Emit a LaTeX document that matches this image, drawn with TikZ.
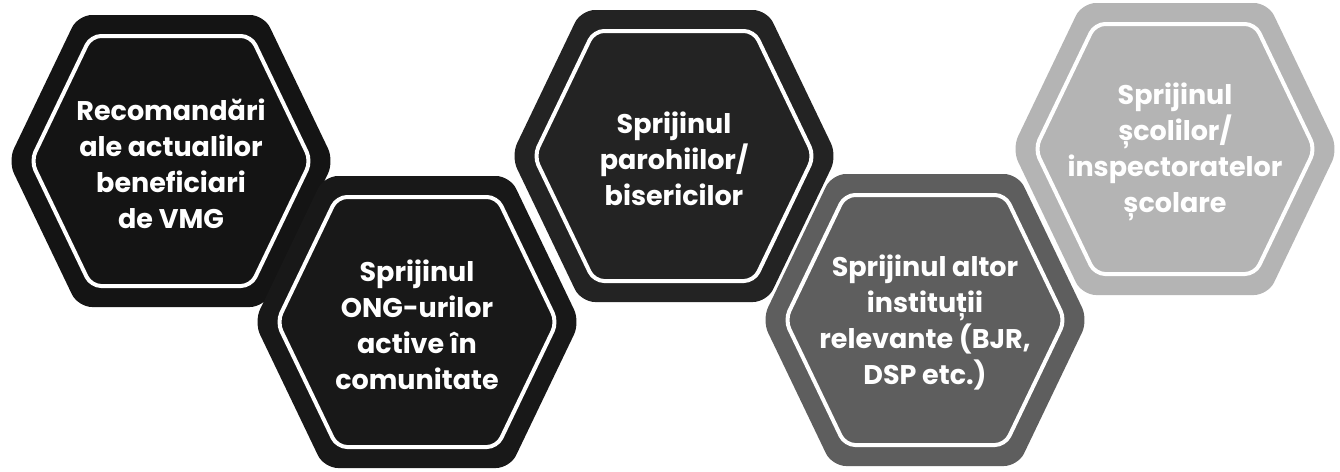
\documentclass[tikz,border=0pt]{standalone}
\usepackage{fontspec}
\setmainfont{Poppins}
\definecolor{hexA}{HTML}{141414}
\definecolor{hexB}{HTML}{181818}
\definecolor{hexC}{HTML}{232323}
\definecolor{hexD}{HTML}{5E5E5E}
\definecolor{hexE}{HTML}{B4B4B4}
\begin{document}
\begin{tikzpicture}[x=1pt,y=-1pt,
  hexlabel/.style={text=white, align=center, inner sep=0pt,
    font=\bfseries\fontsize{27}{36}\selectfont},
  outerhex/.style={fill=#1, rounded corners=14pt},
  innerhex/.style={draw=white, line width=4pt, rounded corners=10pt}]
\useasboundingbox[fill=white] (0,0) rectangle (1340,471);
\foreach \n/\cx/\cy/\col/\txt in {
  h1/171/161/hexA/{Recomandări\\ale actualilor\\beneficiari\\de VMG},
  h2/417/322/hexB/{Sprijinul\\ONG-urilor\\active în\\comunitate},
  h3/674/156/hexC/{Sprijinul\\parohiilor/\\bisericilor},
  h4/925/320/hexD/{Sprijinul altor\\instituții\\relevante (BJR,\\DSP etc.)},
  h5/1175/149/hexE/{Sprijinul\\școlilor/\\inspectoratelor\\școlare}} {
  \fill[outerhex=\col] (\cx-163,\cy) -- (\cx-93,\cy-146) -- (\cx+93,\cy-146)
    -- (\cx+163,\cy) -- (\cx+93,\cy+146) -- (\cx-93,\cy+146) -- cycle;
  \draw[innerhex] (\cx-140,\cy) -- (\cx-80,\cy-125) -- (\cx+80,\cy-125)
    -- (\cx+140,\cy) -- (\cx+80,\cy+125) -- (\cx-80,\cy+125) -- cycle;
  \node[hexlabel] (\n) at (\cx,\cy+3) {\txt};
}
\end{tikzpicture}
\end{document}
